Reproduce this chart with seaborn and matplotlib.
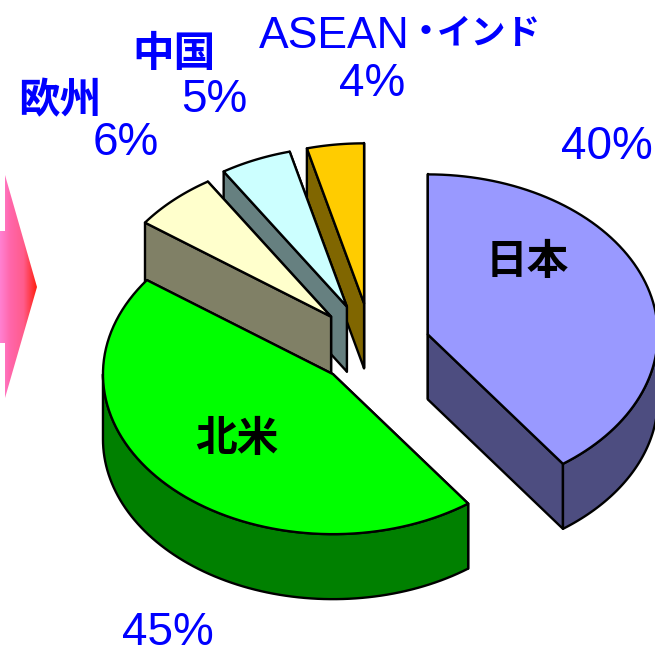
import numpy as np
import matplotlib
matplotlib.use("Agg")
import matplotlib.pyplot as plt
from matplotlib.colors import LinearSegmentedColormap
from matplotlib.patches import Polygon
import seaborn as sns

# Share of each region, clockwise from 12 o'clock
regions = ["日本", "北米", "欧州", "中国", "ASEAN・インド"]
shares = [40, 45, 6, 5, 4]
top_colors = ["#9999FF", "#00FF00", "#FFFFCC", "#CCFFFF", "#FFCC00"]

# 3D pie layout, in pixels
cx, cy = 372, 347
rx, ry = 230, 160
depth = 65
explode = [0.255, 0.24, 0.26, 0.275, 0.275]

sns.set_theme(style="white")
palette = sns.color_palette(top_colors)

fig = plt.figure(figsize=(6.55, 6.48), dpi=100)
ax = fig.add_axes([0, 0, 1, 1])


def rim(apex, a, b):
    t = np.radians(np.linspace(a, b, 80))
    return np.column_stack([apex[0] + rx * np.sin(t), apex[1] - ry * np.cos(t)])


def face(points, color, z):
    ax.add_patch(Polygon(points, closed=True, facecolor=color, edgecolor="black",
                         lw=1.7, joinstyle="round", zorder=z))


bounds = np.cumsum([0] + shares) * 3.6
down = np.array([0, depth])

# back slices first so the front ones cover them
for z, i in enumerate([4, 3, 2, 0, 1]):
    a, b = bounds[i], bounds[i + 1]
    mid = np.radians((a + b) / 2)
    apex = np.array([cx + explode[i] * rx * np.sin(mid), cy - explode[i] * ry * np.cos(mid)])
    color = palette[i]
    side = tuple(c * 0.5 for c in color)
    arc = rim(apex, a, b)
    walls = [np.array([apex, arc[0], arc[0] + down, apex + down]),
             np.array([apex, arc[-1], arc[-1] + down, apex + down])]
    walls.sort(key=lambda w: w[:, 1].mean())
    base = z * 10
    for k, w in enumerate(walls):
        face(w, side, base + k)
    # outer wall only shows on the front half
    lo, hi = max(a, 90), min(b, 270)
    if lo < hi:
        front = rim(apex, lo, hi)
        face(np.vstack([front, (front + down)[::-1]]), side, base + 3)
    face(np.vstack([apex, arc]), color, base + 4)

# gradient arrow coming in from the left
cmap = LinearSegmentedColormap.from_list("arrow", ["#FF88DD", "#FF66AA", "#FF5C8C", "#FF2010"])
im = ax.imshow(np.linspace(0, 1, 64)[None, :], extent=(-3, 37, 398, 175), cmap=cmap,
               aspect="auto", zorder=1)
arrow = Polygon([(-3, 231), (5, 231), (5, 175), (37, 287), (5, 398), (5, 343), (-3, 343)],
                transform=ax.transData, facecolor="none", edgecolor="none")
ax.add_patch(arrow)
im.set_clip_path(arrow)

cjk = ["Noto Sans CJK JP", "DejaVu Sans"]
latin = ["Liberation Sans", "DejaVu Sans"]
blue = "#0000FF"

# category labels
ax.text(527, 262, regions[0], family=cjk, weight="bold", fontsize=30, color="black",
        ha="center", va="center", zorder=100)
ax.text(237, 439, regions[1], family=cjk, weight="bold", fontsize=30, color="black",
        ha="center", va="center", zorder=100)
ax.text(60, 101, regions[2], family=cjk, weight="bold", fontsize=30, color=blue,
        ha="center", va="center", zorder=100)
ax.text(174, 54, regions[3], family=cjk, weight="bold", fontsize=30, color=blue,
        ha="center", va="center", zorder=100)
name, kana = regions[4].split("・")
ax.text(334, 48, name, family=latin, fontsize=32, color=blue, ha="center", va="baseline", zorder=100)
ax.text(426, 33, "・", family=cjk, weight="bold", fontsize=26, color=blue,
        ha="center", va="center", zorder=100)
ax.text(541, 33, kana, family=cjk, weight="bold", fontsize=25, color=blue,
        ha="right", va="center", zorder=100)

# percent labels
pct_pos = [(607, 159), (168, 645), (126, 155), (214, 112), (372, 96)]
for v, (x, y) in zip(shares, pct_pos):
    ax.text(x, y, f"{v}%", family=latin, fontsize=33, color=blue, ha="center", va="baseline",
            zorder=100)

ax.set_xlim(0, 655)
ax.set_ylim(648, 0)
ax.axis("off")

fig.savefig("out.png", dpi=100, facecolor="white")
